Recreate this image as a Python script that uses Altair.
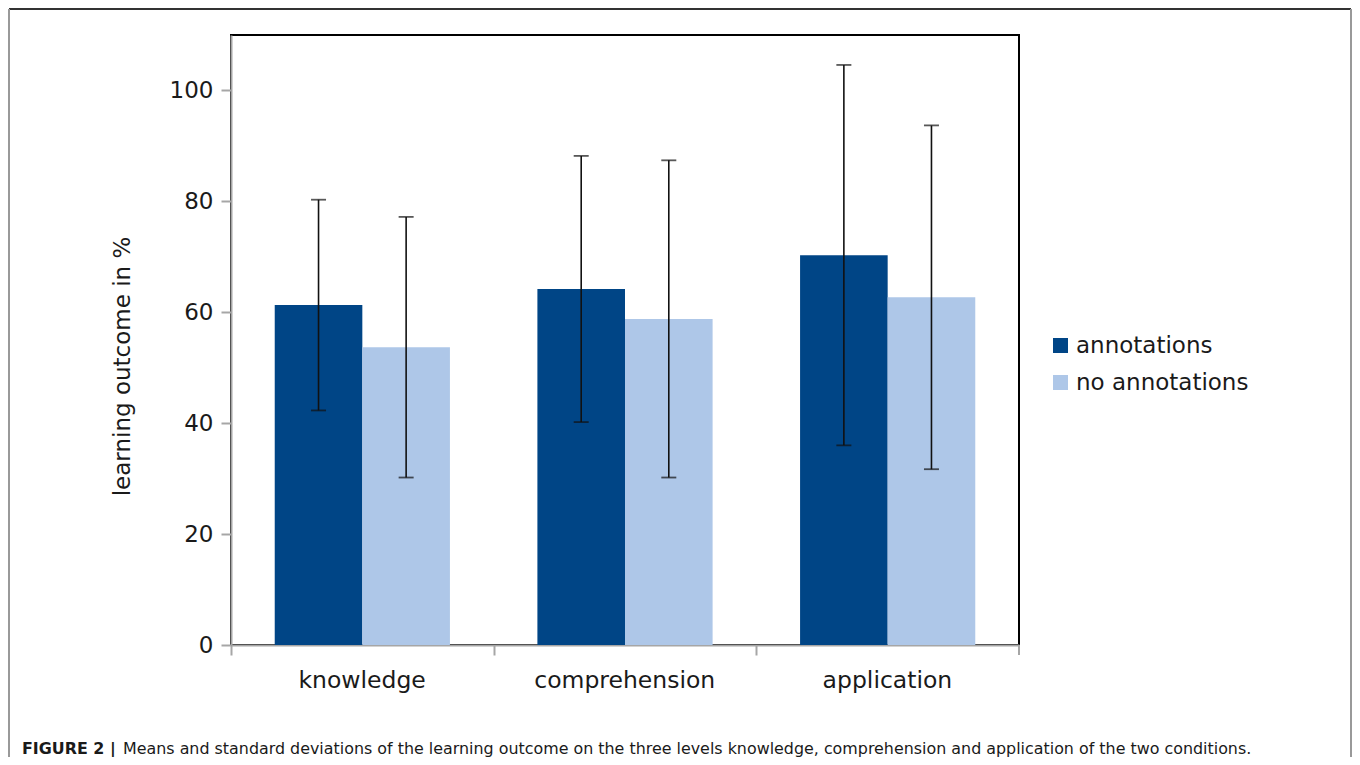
import altair as alt
import pandas as pd

categories = ["knowledge", "comprehension", "application"]
conditions = ["annotations", "no annotations"]
mean_annot = [61.3, 64.2, 70.3]
sd_annot = [19.0, 24.0, 34.3]
mean_no = [53.7, 58.8, 62.7]
sd_no = [23.5, 28.6, 31.0]
y_ticks = [0, 20, 40, 60, 80, 100]
y_title = "learning outcome in %"
caption_bold = "FIGURE 2 |"
caption_text = ("Means and standard deviations of the learning outcome on the three levels "
                "knowledge, comprehension and application of the two conditions.")

rows = []
for i, c in enumerate(categories):
    rows.append({"level": c, "condition": conditions[0], "mean": mean_annot[i], "sd": sd_annot[i]})
    rows.append({"level": c, "condition": conditions[1], "mean": mean_no[i], "sd": sd_no[i]})
df = pd.DataFrame(rows)
deco = pd.DataFrame({"k": [0]})

W, H = 788, 610
FONT = "DejaVu Sans"
TXT = "#1a1a1a"
AXG = "#a6a6a6"
PAD_IN = 0.333
STEP = W / (len(categories) - PAD_IN + 2 * PAD_IN / 2)
HALF_GAP = PAD_IN * STEP / 2

x_scale = alt.Scale(paddingInner=PAD_IN, paddingOuter=PAD_IN / 2)
y_scale = alt.Scale(domain=[0, 110], nice=False)

x_main = alt.X(
    "level:N", sort=categories, scale=x_scale,
    axis=alt.Axis(title=None, labelFont=FONT, labelFontSize=23.5, labelColor=TXT,
                  labelAngle=0, labelPadding=13, labelLimit=0, domainColor=AXG, domainWidth=2,
                  tickColor=AXG, tickWidth=2, tickSize=10, bandPosition=0,
                  tickOffset=-HALF_GAP, labelOffset=43, grid=False),
)
x_plain = alt.X("level:N", sort=categories, scale=x_scale)
xoff = alt.XOffset("condition:N", sort=conditions, scale=alt.Scale(paddingInner=0, paddingOuter=0))

y_main = alt.Y(
    "mean:Q", scale=y_scale, title=y_title,
    axis=alt.Axis(values=y_ticks, title=y_title, titleFont=FONT, titleFontSize=23,
                  titleFontWeight="normal", titleColor=TXT, titleX=-109, titleY=331,
                  titleBaseline="middle", titleAlign="center", titleAngle=270,
                  labelFont=FONT, labelFontSize=23, labelColor=TXT, labelPadding=8,
                  tickSize=10, tickColor=AXG, tickWidth=2, domainColor=AXG, domainWidth=2,
                  grid=False),
)

color = alt.Color(
    "condition:N", sort=conditions,
    scale=alt.Scale(domain=conditions, range=["#004586", "#aec7e8"]),
    legend=alt.Legend(title=None, orient="none", legendX=818, legendY=299,
                      symbolType="square", symbolSize=225, symbolStrokeWidth=0,
                      labelFont=FONT, labelFontSize=23, labelColor=TXT, labelOffset=4,
                      labelLimit=0, rowPadding=13, padding=0),
)

bars = alt.Chart(df).mark_bar().encode(x=x_main, xOffset=xoff, y=y_main, color=color)

base_err = alt.Chart(df).transform_calculate(
    lo="datum.mean - datum.sd", hi="datum.mean + datum.sd"
)
whisker = base_err.mark_rule(color="#111111", strokeWidth=1.6).encode(
    x=x_plain, xOffset=xoff,
    y=alt.Y("lo:Q", scale=y_scale, title=y_title), y2="hi:Q",
)
cap_lo = base_err.mark_tick(color="#111111", size=15, thickness=1.8, orient="horizontal").encode(
    x=x_plain, xOffset=xoff, y=alt.Y("lo:Q", scale=y_scale, title=y_title)
)
cap_hi = base_err.mark_tick(color="#111111", size=15, thickness=1.8, orient="horizontal").encode(
    x=x_plain, xOffset=xoff, y=alt.Y("hi:Q", scale=y_scale, title=y_title)
)

# closing tick of the category axis at the right end of the plot
end_tick = alt.Chart(deco).mark_rule(color=AXG, strokeWidth=2).encode(
    x=alt.value(W), y=alt.value(H), y2=alt.value(H + 10)
)

top_line = alt.Chart(deco).mark_rule(color="#333333", strokeWidth=2).encode(
    x=alt.value(-222), x2=alt.value(1120), y=alt.value(-26)
)
left_line = alt.Chart(deco).mark_rule(color="#999999", strokeWidth=2).encode(
    x=alt.value(-222), y=alt.value(-26), y2=alt.value(740)
)
right_line = alt.Chart(deco).mark_rule(color="#999999", strokeWidth=2).encode(
    x=alt.value(1120), y=alt.value(-26), y2=alt.value(740)
)

cap1 = alt.Chart(deco).mark_text(
    align="left", baseline="alphabetic", font=FONT, fontSize=15.9, fontWeight="bold", color=TXT
).encode(x=alt.value(-209), y=alt.value(719), text=alt.value(caption_bold))
cap2 = alt.Chart(deco).mark_text(
    align="left", baseline="alphabetic", font=FONT, fontSize=15.9, color=TXT
).encode(x=alt.value(-108), y=alt.value(719), text=alt.value(caption_text))

chart = alt.layer(
    bars, whisker, cap_lo, cap_hi, end_tick, top_line, left_line, right_line, cap1, cap2
).properties(
    width=W, height=H,
    autosize=alt.AutoSizeParams(type="none"),
    padding={"left": 223, "top": 27, "right": 333, "bottom": 112},
).configure_view(stroke="#000000", strokeWidth=2)

chart.save("out.html", embed_options={"renderer": "svg", "actions": False})
